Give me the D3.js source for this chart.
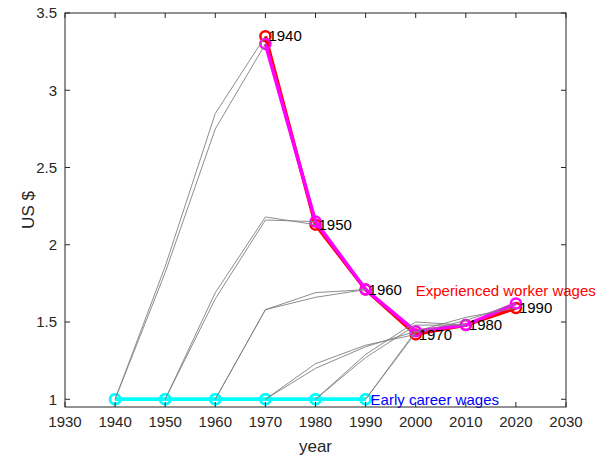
<!DOCTYPE html>
<html>
<head>
<meta charset="utf-8">
<script src="https://cdn.jsdelivr.net/npm/d3@7"></script>
<style>
  body { margin: 0; background: #fff; }
  text { font-family: "Liberation Sans", Arial, sans-serif; }
</style>
</head>
<body>
<svg id="chart"></svg>
<script>
// cohort start years and the decade offsets along each cohort path
const cohorts = [1940, 1950, 1960, 1970, 1980, 1990];
const offsets = [0, 10, 20, 30];

// wage paths per cohort (two estimates), values at start, +10, +20, +30 years
const pathsA = [
  [1, 1.86, 2.85, 3.35],
  [1, 1.69, 2.18, 2.13],
  [1, 1.58, 1.69, 1.71],
  [1, 1.23, 1.35, 1.42],
  [1, 1.29, 1.50, 1.48],
  [1, 1.44, 1.53, 1.59]
];
const pathsB = [
  [1, 1.82, 2.75, 3.30],
  [1, 1.65, 2.16, 2.15],
  [1, 1.58, 1.66, 1.71],
  [1, 1.20, 1.34, 1.44],
  [1, 1.27, 1.48, 1.48],
  [1, 1.43, 1.51, 1.62]
];

const xTicks = d3.range(1930, 2031, 10);
const yTicks = [1, 1.5, 2, 2.5, 3, 3.5];

const W = 607, H = 455;
const mg = { top: 13, right: 41, bottom: 48, left: 65 };
const iw = W - mg.left - mg.right;
const ih = H - mg.top - mg.bottom;
const axisC = '#262626';

const svg = d3.select('#chart').attr('width', W).attr('height', H);
const g = svg.append('g').attr('transform', `translate(${mg.left},${mg.top})`);

const x = d3.scaleLinear().domain([1930, 2030]).range([0, iw]);
const y = d3.scaleLinear().domain([0.95, 3.5]).range([ih, 0]);

const line = d3.line().x(d => x(d[0])).y(d => y(d[1]));

// early career (start of each cohort) and experienced (end) series
const earlyA = cohorts.map((c, i) => [c, pathsA[i][0]]);
const earlyB = cohorts.map((c, i) => [c, pathsB[i][0]]);
const expA = cohorts.map((c, i) => [c + 30, pathsA[i][3]]);
const expB = cohorts.map((c, i) => [c + 30, pathsB[i][3]]);

function series(pts, color) {
  g.append('path').datum(pts).attr('d', line)
    .attr('fill', 'none').attr('stroke', color).attr('stroke-width', 3.5)
    .attr('stroke-linejoin', 'round');
  g.selectAll(null).data(pts).enter().append('circle')
    .attr('cx', d => x(d[0])).attr('cy', d => y(d[1])).attr('r', 5)
    .attr('fill', 'none').attr('stroke', color).attr('stroke-width', 2.5);
}

series(earlyA, '#00ffff');
series(earlyB, '#00ffff');
series(expA, '#ff0000');
series(expB, '#ff00ff');

// gray cohort paths
[pathsA, pathsB].forEach(paths => {
  paths.forEach((p, i) => {
    const pts = offsets.map((o, k) => [cohorts[i] + o, p[k]]);
    g.append('path').datum(pts).attr('d', line)
      .attr('fill', 'none').attr('stroke', '#808080').attr('stroke-width', 0.9);
  });
});

// cohort labels
expA.forEach((d, i) => {
  g.append('text').attr('x', x(d[0]) + 3).attr('y', y(d[1]))
    .attr('dy', '0.35em').attr('font-size', 15).attr('fill', '#000')
    .text(cohorts[i]);
});

g.append('text').attr('x', x(2000)).attr('y', y(1.7)).attr('dy', '0.35em')
  .attr('font-size', 15).attr('fill', '#ff0000').text('Experienced worker wages');
g.append('text').attr('x', x(1990) + 5).attr('y', y(1)).attr('dy', '0.35em')
  .attr('font-size', 15).attr('fill', '#0000ff').text('Early career wages');

// axes box with inward ticks on all sides
const tk = 5;
g.append('rect').attr('x', 0).attr('y', 0).attr('width', iw).attr('height', ih)
  .attr('fill', 'none').attr('stroke', axisC).attr('stroke-width', 1);
xTicks.forEach(t => {
  g.append('line').attr('x1', x(t)).attr('x2', x(t)).attr('y1', ih).attr('y2', ih - tk)
    .attr('stroke', axisC);
  g.append('line').attr('x1', x(t)).attr('x2', x(t)).attr('y1', 0).attr('y2', tk)
    .attr('stroke', axisC);
  g.append('text').attr('x', x(t)).attr('y', ih + 15).attr('dy', '0.35em')
    .attr('text-anchor', 'middle').attr('font-size', 15).attr('fill', axisC).text(t);
});
yTicks.forEach(t => {
  g.append('line').attr('x1', 0).attr('x2', tk).attr('y1', y(t)).attr('y2', y(t))
    .attr('stroke', axisC);
  g.append('line').attr('x1', iw).attr('x2', iw - tk).attr('y1', y(t)).attr('y2', y(t))
    .attr('stroke', axisC);
  g.append('text').attr('x', -8).attr('y', y(t)).attr('dy', '0.35em')
    .attr('text-anchor', 'end').attr('font-size', 15).attr('fill', axisC).text(t);
});

g.append('text').attr('x', iw / 2).attr('y', ih + 39).attr('dy', '0.35em')
  .attr('text-anchor', 'middle').attr('font-size', 17).attr('fill', axisC).text('year');
g.append('text').attr('transform', `translate(${-37},${ih / 2}) rotate(-90)`)
  .attr('dy', '0.35em').attr('text-anchor', 'middle').attr('font-size', 17)
  .attr('fill', axisC).text('US $');
</script>
</body>
</html>
